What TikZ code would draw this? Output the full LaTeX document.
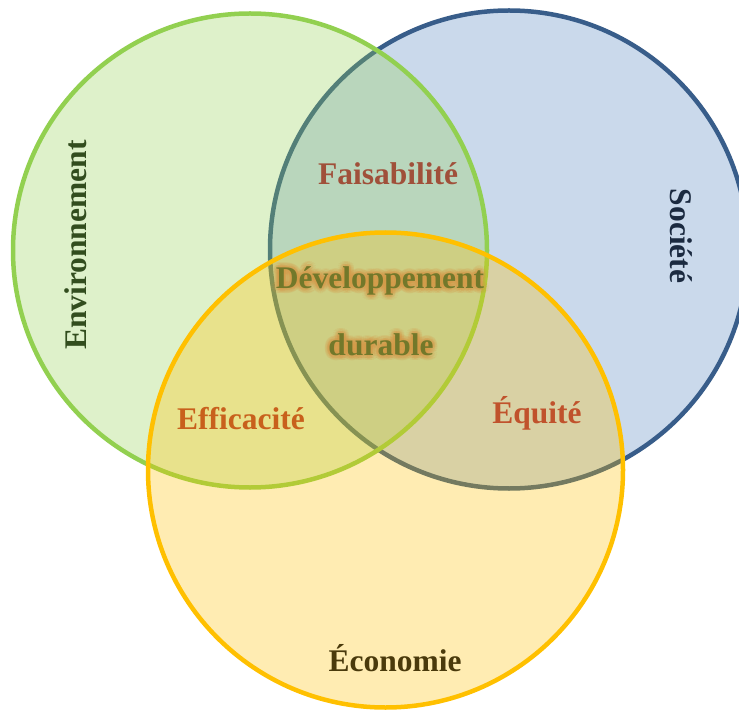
\documentclass[tikz,border=0pt]{standalone}
\usepackage{fontspec}
\setmainfont{Liberation Serif}
\definecolor{gline}{HTML}{92D050}
\definecolor{bline}{HTML}{385D8A}
\definecolor{bfill}{HTML}{4F81BD}
\definecolor{yline}{HTML}{FFC000}
\definecolor{cenv}{HTML}{324D1E}
\definecolor{csoc}{HTML}{1B2A40}
\definecolor{cfais}{HTML}{A0503A}
\definecolor{ceff}{HTML}{C8601C}
\definecolor{cequ}{HTML}{C0522C}
\definecolor{ceco}{HTML}{4A3A0C}
\definecolor{cdev}{HTML}{72782A}
\definecolor{cglow}{HTML}{D89848}
\tikzset{
  ring/.style={line width=4.5pt, fill opacity=0.3},
  lbl/.style={inner sep=0pt, font=\fontsize{31.5}{36}\selectfont\bfseries},
  glowtxt/.style={lbl, text=cglow, text opacity=0.13},
}
\begin{document}
\begin{tikzpicture}[x=1pt,y=-1pt]
\useasboundingbox (0,0) rectangle (739,711);
\begin{scope}
\clip (0,0) rectangle (739,711);
\path[ring, draw=bline, fill=bfill] (509,249.5) circle (239);
\path[ring, draw=gline, fill=gline] (250,250.5) circle (237);
\path[ring, draw=yline, fill=yline] (385.5,470) circle (237.5);
\end{scope}
% labels
\node[lbl, text=cenv, rotate=90] (env) at (76,245) {Environnement};
\node[lbl, text=csoc, rotate=-90] (soc) at (681,236) {Société};
\node[lbl, text=cfais] (fais) at (388,174) {Faisabilité};
\node[lbl, text=ceff] (eff) at (241,419) {Efficacité};
\node[lbl, text=cequ] (equ) at (537,413) {Équité};
\node[lbl, text=ceco] (eco) at (395,658) {Économie};
% glow
\foreach \i in {1,...,16}{
  \node[glowtxt, shift={(\i*22.5:2.5)}] (gda\i) at (380,281) {Développement};
  \node[glowtxt, shift={(\i*22.5:2.5)}] (gdb\i) at (381,345) {durable};
  \node[glowtxt, shift={(\i*22.5+11:5)}] (gdc\i) at (380,281) {Développement};
  \node[glowtxt, shift={(\i*22.5+11:5)}] (gdd\i) at (381,345) {durable};
}
\node[lbl, text=cdev] (dev) at (380,281) {Développement};
\node[lbl, text=cdev] (dur) at (381,345) {durable};
\end{tikzpicture}
\end{document}
